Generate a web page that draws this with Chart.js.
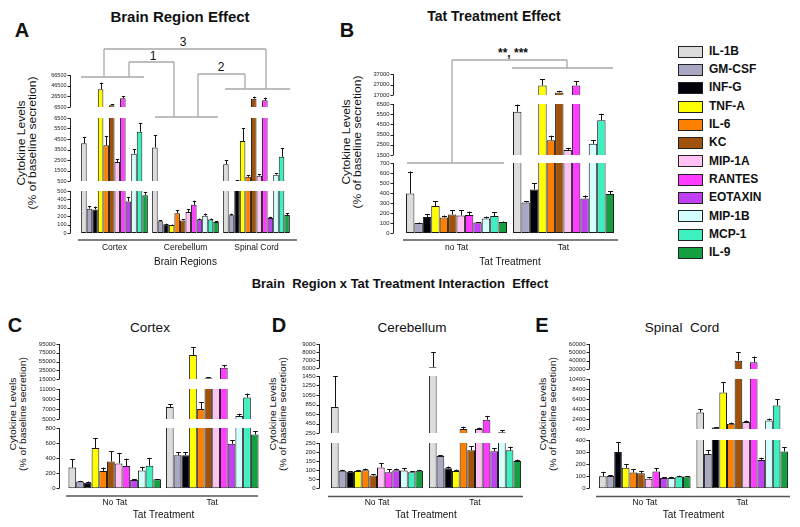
<!DOCTYPE html>
<html>
<head>
<meta charset="utf-8">
<script src="https://cdn.jsdelivr.net/npm/chart.js@4.4.1/dist/chart.umd.min.js"></script>
<style>
body { margin:0; width:800px; height:527px; position:relative; overflow:hidden; background:#fff; font-family:Arial, "Liberation Sans", sans-serif; color:#111; }
.txt { position:absolute; transform:translate(-50%,-50%); white-space:nowrap; }
.ytitle { position:absolute; text-align:center; white-space:nowrap; }
.leg { position:absolute; left:678px; font-weight:bold; font-size:12px; }
.leg span { display:inline-block; width:23px; height:10px; border:1px solid #222; vertical-align:middle; margin-right:6px; }
</style>
</head>
<body>
<svg id="brackets" width="800" height="527" style="position:absolute;left:0;top:0;z-index:2" stroke="#a8a8a8" stroke-width="1.3" fill="none"></svg>
<script>
const FONT = 'Arial, "Liberation Sans", sans-serif';

// cytokines (legend order)
const cytokines = ['IL-1B','GM-CSF','INF-G','TNF-A','IL-6','KC','MIP-1A','RANTES','EOTAXIN','MIP-1B','MCP-1','IL-9'];
const cytokineColors = ['#dcdcdc','#a8a8c4','#00000c','#ffff00','#ff7f00','#a0520a','#ffc2f2','#ff3cff','#c040f4','#d4ffff','#3ef0c0','#14a040'];

// A - Brain Region Effect
const regionLabels = ['Cortex','Cerebellum','Spinal Cord'];
const cortexMean     = [4100, 290, 280, 40000, 3900, 10000, 2300, 23000, 375, 3100, 5200, 450];
const cortexSem      = [600, 30, 35, 12000, 900, 1500, 250, 4000, 55, 450, 800, 40];
const cerebellumMean = [3700, 140, 105, 95, 235, 150, 250, 335, 160, 205, 160, 130];
const cerebellumSem  = [1150, 12, 6, 6, 35, 15, 30, 50, 12, 25, 12, 8];
const spinalMean     = [2100, 210, 530, 4300, 900, 22000, 1000, 19000, 180, 1100, 2800, 214];
const spinalSem      = [380, 20, 20, 1200, 150, 4000, 150, 5000, 12, 150, 800, 20];
const ticksA = [[0,100,200,300,400,500],[500,1500,2500,3500,4500,5500,6500],[6500,26500,46500,66500]];

// B - Tat Treatment Effect
const tatLabelsB = ['no Tat','Tat'];
const noTatMean = [395, 100, 160, 270, 155, 185, 175, 180, 105, 145, 170, 110];
const noTatSem  = [220, 5, 30, 50, 20, 45, 55, 35, 5, 20, 35, 5];
const tatMean   = [5750, 305, 435, 26000, 2950, 19500, 2000, 26000, 345, 2600, 4900, 390];
const tatSem    = [700, 15, 60, 6000, 450, 1500, 200, 4000, 30, 350, 650, 30];
const ticksB = [[0,100,200,300,400,500,600,700],[1500,2500,3500,4500,5500,6500],[17000,27000,37000]];

// C, D, E - interaction
const tatLabels = ['No Tat','Tat'];
const cortexNoTatMean = [275, 90, 75, 535, 230, 355, 330, 295, 110, 235, 300, 120];
const cortexNoTatSem  = [110, 8, 15, 130, 45, 135, 140, 100, 12, 50, 100, 5];
const cortexTatMean   = [7400, 440, 440, 70000, 7000, 17000, 12500, 41000, 590, 5600, 9300, 715];
const cortexTatSem    = [550, 40, 40, 17000, 1400, 2000, 1000, 6000, 50, 450, 800, 45];
const ticksC = [[0,200,400,600,800],[5000,7000,9000,11000],[15000,35000,55000,75000,95000]];

const cerebNoTatMean = [800, 97, 92, 96, 100, 70, 115, 88, 100, 98, 88, 97];
const cerebNoTatSem  = [650, 5, 3, 3, 9, 9, 22, 16, 9, 14, 6, 5];
const cerebTatMean   = [6100, 178, 110, 95, 335, 210, 335, 530, 205, 265, 210, 150];
const cerebTatSem    = [1900, 5, 10, 8, 50, 22, 25, 80, 15, 40, 20, 8];
const ticksD = [[0,50,100,150,200,250],[250,450,650,850,1050,1250,1450],[6000,7000,8000,9000]];

const spinalNoTatMean = [100, 102, 300, 170, 130, 125, 80, 140, 85, 85, 97, 97];
const spinalNoTatSem  = [37, 6, 80, 30, 28, 20, 12, 25, 6, 10, 7, 4];
const spinalTatMean   = [3700, 285, 700, 7700, 1450, 40000, 1800, 38000, 235, 2100, 5100, 305];
const spinalTatSem    = [650, 30, 80, 2100, 250, 10000, 300, 7000, 18, 400, 1250, 37];
const ticksE = [[0,100,200,300,400],[400,2400,4400,6400,8400,10400],[30000,40000,50000,60000]];

// layout of each panel (pixels)
const panels = [
  { cats: regionLabels, means: [cortexMean, cerebellumMean, spinalMean], sems: [cortexSem, cerebellumSem, spinalSem],
    ticks: ticksA, xTitle: 'Brain Regions', axisX: 70, plotL: 79, plotR: 292, catPct: 0.94, tickSize: 5.5,
    segY: [[191,233],[118,181],[75,107]], xLine: [78,297,240], labelY: 248, titleY: 262 },
  { cats: tatLabelsB, means: [noTatMean, tatMean], sems: [noTatSem, tatSem],
    ticks: ticksB, xTitle: 'Tat Treatment', axisX: 393, plotL: 403, plotR: 617, catPct: 0.944, tickSize: 5.8,
    segY: [[163,233],[104,155],[73.5,94]], xLine: [403,618,240], labelY: 248, titleY: 262 },
  { cats: tatLabels, means: [cortexNoTatMean, cortexTatMean], sems: [cortexNoTatSem, cortexTatSem],
    ticks: ticksC, xTitle: 'Tat Treatment', axisX: 59, plotL: 66, plotR: 261, catPct: 0.95, tickSize: 6,
    segY: [[428.3,488.3],[389,419],[344.3,379.3]], xLine: [66,258,496], labelY: 503, titleY: 515 },
  { cats: tatLabels, means: [cerebNoTatMean, cerebTatMean], sems: [cerebNoTatSem, cerebTatSem],
    ticks: ticksD, xTitle: 'Tat Treatment', axisX: 319, plotL: 328, plotR: 524, catPct: 0.94, tickSize: 6,
    segY: [[442.7,488.3],[376,433.3],[344,368.3]], xLine: [328,523,496.5], labelY: 503, titleY: 515 },
  { cats: tatLabels, means: [spinalNoTatMean, spinalTatMean], sems: [spinalNoTatSem, spinalTatSem],
    ticks: ticksE, xTitle: 'Tat Treatment', axisX: 589, plotL: 596, plotR: 791, catPct: 0.94, tickSize: 6,
    segY: [[440,488.3],[379.3,429.3],[344.3,369.3]], xLine: [596,790,496.5], labelY: 503, titleY: 515 }
];

// y axis line + tick marks, and the offset x axis line
const axisLines = {
  id: 'axisLines',
  afterDraw(chart, args, opts) {
    const { ctx, chartArea } = chart;
    const y = chart.scales.y;
    const ax = Math.round(chartArea.left - opts.gap) + 0.5;
    ctx.save();
    ctx.strokeStyle = '#222';
    ctx.lineWidth = 1;
    ctx.beginPath();
    ctx.moveTo(ax, y.getPixelForValue(y.max));
    ctx.lineTo(ax, y.getPixelForValue(y.min));
    y.ticks.forEach(t => {
      const py = Math.round(y.getPixelForValue(t.value)) + 0.5;
      ctx.moveTo(ax - 3, py);
      ctx.lineTo(ax, py);
    });
    ctx.stroke();
    if (opts.xLine) {
      const ly = chartArea.bottom + opts.xLine.dy;
      ctx.strokeStyle = '#555';
      ctx.lineWidth = 1.5;
      ctx.beginPath();
      ctx.moveTo(chartArea.left - opts.xLine.l, ly);
      ctx.lineTo(chartArea.right + opts.xLine.r, ly);
      ctx.stroke();
    }
    ctx.restore();
  }
};

// upper error bars (mean + SEM)
const errorBars = {
  id: 'errorBars',
  afterDatasetsDraw(chart) {
    const { ctx, chartArea } = chart;
    const y = chart.scales.y;
    ctx.save();
    ctx.beginPath();
    ctx.rect(chartArea.left, chartArea.top, chartArea.width, chartArea.height);
    ctx.clip();
    ctx.strokeStyle = '#111';
    ctx.lineWidth = 1;
    chart.data.datasets.forEach((ds, i) => {
      chart.getDatasetMeta(i).data.forEach((bar, j) => {
        const v = ds.data[j], e = ds.errors[j];
        const yTop = y.getPixelForValue(v + e);
        const yBar = y.getPixelForValue(v);
        const x = Math.round(bar.x) + 0.5;
        const w = Math.max(1.5, bar.width * 0.3);
        ctx.beginPath();
        ctx.moveTo(x, yBar);
        ctx.lineTo(x, yTop);
        ctx.moveTo(x - w, Math.round(yTop) + 0.5);
        ctx.lineTo(x + w, Math.round(yTop) + 0.5);
        ctx.stroke();
      });
    });
    ctx.restore();
  }
};
Chart.register(axisLines, errorBars);

function buildSegment(p, s) {
  const [top, bottom] = p.segY[s];
  const isBase = s === 0;
  const m = 3, rightPad = 7;
  const gap = p.plotL - p.axisX;
  const axisW = gap + 24;
  const xAxisH = isBase ? (p.titleY + 6 - bottom) : 0;
  const segTicks = p.ticks[s];

  const canvas = document.createElement('canvas');
  canvas.width = axisW + (p.plotR - p.plotL) + rightPad;
  canvas.height = Math.round((bottom - top) + m + (isBase ? xAxisH : m));
  canvas.style.cssText = `position:absolute;left:${p.plotL - axisW}px;top:${top - m}px;z-index:1`;
  document.body.appendChild(canvas);

  const datasets = cytokines.map((name, i) => ({
    label: name,
    data: p.means.map(g => g[i]),
    errors: p.sems.map(g => g[i]),
    backgroundColor: cytokineColors[i],
    borderColor: '#1a1a1a',
    borderWidth: 1,
    borderSkipped: false,
    categoryPercentage: p.catPct,
    barPercentage: 1,
    clip: 0
  }));

  new Chart(canvas, {
    type: 'bar',
    data: { labels: p.cats, datasets },
    options: {
      responsive: false,
      animation: false,
      events: [],
      layout: { padding: { top: m, bottom: isBase ? 0 : m, left: 0, right: rightPad } },
      plugins: {
        legend: { display: false },
        tooltip: { enabled: false },
        axisLines: { gap, xLine: isBase ? { dy: p.xLine[2] - bottom, l: p.plotL - p.xLine[0], r: p.xLine[1] - p.plotR } : null }
      },
      scales: {
        x: {
          display: isBase,
          grid: { display: false, drawTicks: false },
          border: { display: false },
          ticks: { autoSkip: false, maxRotation: 0, minRotation: 0, padding: p.labelY - bottom - 5, color: '#111',
                   font: { size: 8.5, family: FONT } },
          title: { display: true, text: p.xTitle, padding: 0, color: '#111', font: { size: 10, family: FONT } },
          afterFit: sc => { sc.height = xAxisH; sc.paddingLeft = 0; sc.paddingRight = 0; }
        },
        y: {
          min: segTicks[0],
          max: segTicks[segTicks.length - 1],
          afterBuildTicks: sc => { sc.ticks = segTicks.map(v => ({ value: v })); },
          afterFit: sc => { sc.width = axisW; sc.paddingTop = 0; sc.paddingBottom = 0; },
          grid: { display: false, drawTicks: false },
          border: { display: false },
          ticks: { autoSkip: false, padding: gap + 3.5, color: '#222', font: { size: p.tickSize, family: FONT },
                   callback: v => String(v) }
        }
      }
    }
  });
}

panels.forEach(p => p.segY.forEach((seg, s) => buildSegment(p, s)));

// texts
function addText(txt, x, y, css) {
  const d = document.createElement('div');
  d.className = 'txt';
  d.textContent = txt;
  d.style.left = x + 'px';
  d.style.top = y + 'px';
  d.style.cssText += css;
  document.body.appendChild(d);
}
function addYTitle(x, y, size) {
  const d = document.createElement('div');
  d.className = 'ytitle';
  d.innerHTML = 'Cytokine Levels<br>(% of baseline secretion)';
  d.style.cssText += `left:${x}px;top:${y}px;font-size:${size}px;line-height:${size + 0.5}px;transform:translate(-50%,-50%) rotate(-90deg) scaleX(1.15);`;
  document.body.appendChild(d);
}

addText('Brain Region Effect', 180, 16, 'font-weight:bold;font-size:15px;');
addText('Tat Treatment Effect', 494, 16, 'font-weight:bold;font-size:14px;');
addText('Brain  Region x Tat Treatment Interaction  Effect', 400, 283, 'font-weight:bold;font-size:13px;white-space:pre;');
addText('Cortex', 150, 327, 'font-size:13.5px;');
addText('Cerebellum', 412, 327, 'font-size:13.5px;');
addText('Spinal  Cord', 682, 327, 'font-size:13.5px;white-space:pre;');
[['A',22,30],['B',347,30],['C',15,325],['D',279,325],['E',542,325]].forEach(([t,x,y]) =>
  addText(t, x, y, 'font-weight:bold;font-size:20px;'));
addText('1', 153, 56, 'font-size:12px;');
addText('2', 221, 67, 'font-size:12px;');
addText('3', 183, 42, 'font-size:12px;');
addText('**, ***', 513, 53, 'font-size:12px;font-weight:bold;');

addYTitle(27, 143, 10.5);
addYTitle(352, 142, 10.5);
addYTitle(18, 414, 9);
addYTitle(278, 414, 9);
addYTitle(548, 414, 9);

// significance brackets
const bracketLines = [
  [81,77,144,77],[155,117,218,117],[225,89,290,89],
  [129,62,174,62],[129,62,129,77],[174,62,174,117],
  [198,74,245,74],[198,74,198,117],[245,74,245,89],
  [104,49,266,49],[104,49,104,77],[266,49,266,89],
  [407,163,504,163],[512,68,613,68],
  [452,60,567,60],[452,60,452,163],[567,60,567,68]
];
const svg = document.getElementById('brackets');
svg.innerHTML = bracketLines.map(([x1,y1,x2,y2]) => `<line x1="${x1}" y1="${y1}" x2="${x2}" y2="${y2}"/>`).join('');

// legend
cytokines.forEach((name, i) => {
  const d = document.createElement('div');
  d.className = 'leg';
  d.style.top = (50.8 + i * 18.3 - 7) + 'px';
  d.innerHTML = `<span style="background:${cytokineColors[i]}"></span>${name}`;
  document.body.appendChild(d);
});
</script>
</body>
</html>
